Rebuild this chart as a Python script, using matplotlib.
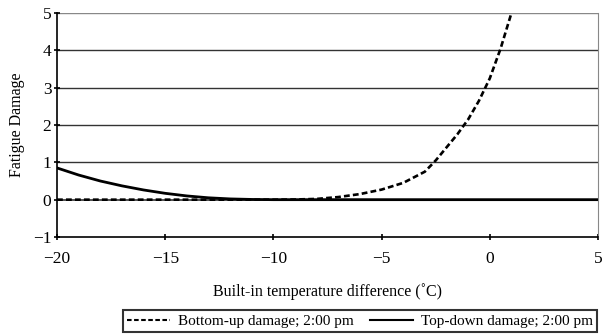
import matplotlib
matplotlib.use("Agg")
import matplotlib.pyplot as plt
from matplotlib.lines import Line2D

plt.rcParams['font.family'] = ['Liberation Serif', 'DejaVu Serif']
plt.rcParams['axes.unicode_minus'] = True

bu_x = [-20, -18, -16, -14, -12, -10, -9, -8, -7, -6, -5, -4, -3, -2.5, -2, -1.5, -1, -0.5, 0, 0.5, 1]
bu_y = [0, 0, 0, 0, 0, 0, 0.005, 0.02, 0.07, 0.15, 0.27, 0.45, 0.75, 1.05, 1.4, 1.75, 2.15, 2.65, 3.25, 4.05, 5.0]

td_x = [-20, -19, -18, -17, -16, -15, -14, -13, -12, -11, -10, -5, 0, 5]
td_y = [0.85, 0.66, 0.5, 0.37, 0.26, 0.17, 0.1, 0.05, 0.02, 0.006, 0, 0, 0, 0]

xticks = [-20, -15, -10, -5, 0, 5]
yticks = [-1, 0, 1, 2, 3, 4, 5]

fig = plt.figure(figsize=(6.03, 3.35), dpi=100)
ax = fig.add_axes([57/603, 1-237/335, (598-57)/603, (237-13)/335])

for y in yticks[1:]:
    ax.axhline(y, color='#333333' if y != 5 else '#888888', lw=1.2 if y == 0 else 1.0, zorder=1)

ax.plot(td_x, td_y, color='black', lw=2.0, zorder=3, label='Top-down damage; 2:00 pm')
ax.plot(bu_x, bu_y, color='black', lw=1.9, ls=(0, (2.2, 1.2)), zorder=4, label='Bottom-up damage; 2:00 pm')

ax.set_xlim(-20, 5)
ax.set_ylim(-1, 5)
ax.set_xticks(xticks)
ax.set_yticks(yticks)
ax.set_xticklabels([f"\u2212{abs(v)}" if v < 0 else str(v) for v in xticks])
ax.set_yticklabels([f"\u2212{abs(v)}" if v < 0 else str(v) for v in yticks])
ax.tick_params(axis='both', labelsize=12.5, length=4, width=1.2, direction='inout', pad=2)
ax.tick_params(axis='x', pad=8)
ax.spines['top'].set_visible(False)
ax.spines['right'].set_color('#888888')
ax.spines['left'].set_linewidth(1.2)
ax.spines['bottom'].set_linewidth(1.2)

ax.set_xlabel('Built-in temperature difference (\u02daC)', fontsize=11.5, labelpad=12)
ax.set_ylabel('Fatigue Damage', fontsize=11.5, labelpad=6)

handles = [Line2D([], [], color='black', lw=1.5, ls=(0, (2.2, 1.2))),
           Line2D([], [], color='black', lw=1.5)]
leg = fig.legend(handles, ['Bottom-up damage; 2:00 pm', 'Top-down damage; 2:00 pm'],
                 loc='center', bbox_to_anchor=(360/603, 1-321/335), ncol=2, fontsize=11,
                 frameon=True, fancybox=False, edgecolor='black', handlelength=2.8,
                 columnspacing=1.1, borderpad=0.3, handletextpad=0.5)
leg.get_frame().set_linewidth(1.5)

fig.savefig('out.png', dpi=100)
